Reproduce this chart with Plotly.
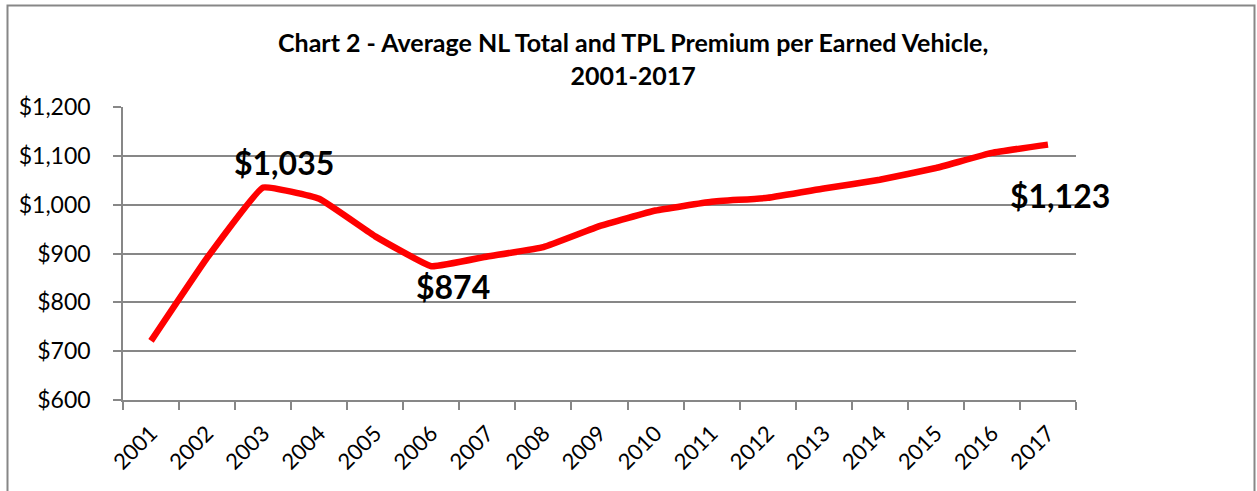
import plotly.graph_objects as go

years = [str(y) for y in range(2001, 2018)]
premium = [721, 891, 1035, 1012, 935, 874, 894, 913, 956, 988, 1006, 1014, 1033, 1051, 1075, 1106, 1123]

label_years = ["2003", "2006", "2017"]
label_values = [1035, 874, 1123]
label_texts = ["$1,035", "$874", "$1,123"]

title_text = "Chart 2 - Average NL Total and TPL Premium per Earned Vehicle,<br>2001-2017"

FONT = "Lato"
GRID = "#878787"

fig = go.Figure()
fig.add_trace(go.Scatter(
    x=years, y=premium, mode="lines",
    line=dict(color="#FF0000", width=6.5, shape="spline", smoothing=0.3),
    hoverinfo="x+y", showlegend=False,
))

offsets = [(21, 25), (22, -20), (12, -51)]
for yr, v, t, (dx, dy) in zip(label_years, label_values, label_texts, offsets):
    fig.add_annotation(x=years.index(yr), y=v, text="<b>%s</b>" % t, showarrow=False,
                       xshift=dx, yshift=dy,
                       font=dict(family=FONT, size=32, color="black"))

fig.add_annotation(x=0.535, y=1.164, xref="paper", yref="paper",
                   text="<b>" + title_text + "</b>", showarrow=False,
                   align="center", xanchor="center", yanchor="middle",
                   font=dict(family=FONT, size=25, color="black"))

# outer chart border
fig.add_shape(type="rect", xref="paper", yref="paper",
              x0=-0.1212, x1=1.1873, y0=-0.33, y1=1.3464,
              line=dict(color=GRID, width=2), layer="below")

fig.update_layout(
    width=1257, height=491,
    margin=dict(l=123, r=181, t=107, b=91),
    paper_bgcolor="white", plot_bgcolor="white",
    font=dict(family=FONT, size=22, color="black"),
    xaxis=dict(type="category", categoryorder="array", categoryarray=years,
               range=[-0.5, len(years) - 0.5],
               showgrid=False, showline=True, linecolor=GRID, linewidth=1.5,
               ticks="outside", tickson="boundaries", ticklen=8, tickcolor=GRID, tickwidth=1.5,
               tickangle=-45, tickfont=dict(family=FONT, size=22), zeroline=False,
               ticklabelstandoff=10),
    yaxis=dict(range=[600, 1200], dtick=100, tickprefix="$", tickformat=",",
               showgrid=True, gridcolor=GRID, gridwidth=1.5,
               showline=True, linecolor=GRID, linewidth=1.5,
               ticks="outside", ticklen=8, tickcolor=GRID, tickwidth=1.5,
               tickfont=dict(family=FONT, size=23), zeroline=False,
               ticklabelstandoff=18),
)

fig.write_html("out.html", config={"displayModeBar": False},
               post_script="document.body.style.margin='0px';")
